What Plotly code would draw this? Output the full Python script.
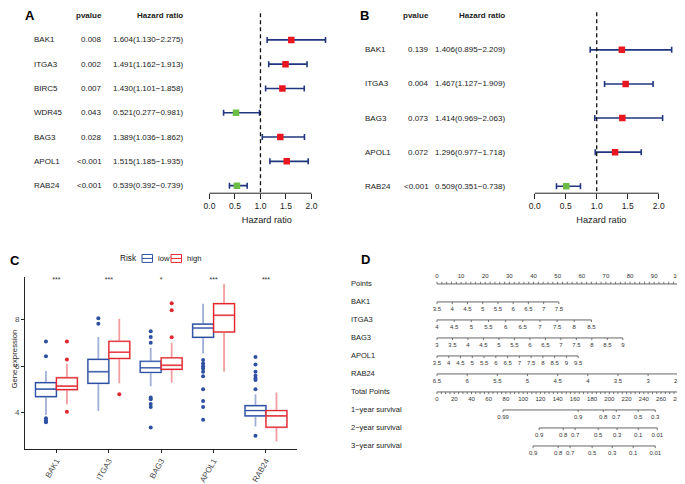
import plotly.graph_objects as go

# ---------------- data ----------------
# Panel A: univariate Cox
A_genes = ["BAK1", "ITGA3", "BIRC5", "WDR45", "BAG3", "APOL1", "RAB24"]
A_pval = ["0.008", "0.002", "0.007", "0.043", "0.028", "<0.001", "<0.001"]
A_hr = [1.604, 1.491, 1.430, 0.521, 1.389, 1.515, 0.539]
A_low = [1.130, 1.162, 1.101, 0.277, 1.036, 1.185, 0.392]
A_high = [2.275, 1.913, 1.858, 0.981, 1.862, 1.935, 0.739]

# Panel B: multivariate Cox
B_genes = ["BAK1", "ITGA3", "BAG3", "APOL1", "RAB24"]
B_pval = ["0.139", "0.004", "0.073", "0.072", "<0.001"]
B_hr = [1.406, 1.467, 1.414, 1.296, 0.509]
B_low = [0.895, 1.127, 0.969, 0.977, 0.351]
B_high = [2.209, 1.909, 2.063, 1.718, 0.738]

HR_ticks = [0, 0.5, 1.0, 1.5, 2.0]
HR_ticklabels = ["0.0", "0.5", "1.0", "1.5", "2.0"]

# Panel C: expression by risk group (box statistics)
C_genes = ["BAK1", "ITGA3", "BAG3", "APOL1", "RAB24"]
C_signif = ["***", "***", "*", "***", "***"]
low_q1 = [4.69, 5.26, 5.73, 7.24, 3.86]
low_med = [5.01, 5.76, 5.93, 7.64, 4.09]
low_q3 = [5.29, 6.29, 6.21, 7.81, 4.30]
low_lofence = [3.90, 4.07, 5.14, 6.54, 3.40]
low_hifence = [5.79, 7.26, 6.79, 8.69, 4.79]
low_outliers = [
    [7.06, 6.43, 3.76, 3.66, 3.59],
    [8.06, 7.83],
    [7.50, 7.26, 7.01, 4.65, 4.58, 4.37, 4.24, 3.36],
    [6.26, 6.11, 6.00, 5.90, 5.76, 5.57, 5.01, 4.50, 4.24, 3.69],
    [6.39, 6.07, 5.76, 5.59, 5.47, 5.40, 5.01, 3.00],
]
high_q1 = [4.99, 6.33, 5.86, 7.47, 3.37]
high_med = [5.14, 6.60, 6.04, 8.19, 3.86]
high_q3 = [5.50, 7.07, 6.36, 8.69, 4.09]
high_lofence = [4.36, 5.26, 5.29, 5.76, 2.76]
high_hifence = [6.10, 8.04, 7.01, 9.54, 4.87]
high_outliers = [
    [7.06, 6.29, 4.04],
    [4.79],
    [8.71, 8.41, 7.24],
    [],
    [],
]
C_yticks = [4, 6, 8]

# Panel D: nomogram
nomo_vars = ["BAK1", "ITGA3", "BAG3", "APOL1", "RAB24"]
BAK1_ticks = [3.5, 4, 4.5, 5, 5.5, 6, 6.5, 7, 7.5]
ITGA3_ticks = [4, 4.5, 5, 5.5, 6, 6.5, 7, 7.5, 8, 8.5]
BAG3_ticks = [3, 3.5, 4, 4.5, 5, 5.5, 6, 6.5, 7, 7.5, 8, 8.5, 9]
APOL1_ticks = [3.5, 4, 4.5, 5, 5.5, 6, 6.5, 7, 7.5, 8, 8.5, 9, 9.5]
RAB24_ticks = [6.5, 6, 5.5, 5, 4.5, 4, 3.5, 3, 2.5]
nomo_maxpoints = [50.5, 64.0, 77.0, 58.5, 100.0]
points_labels = list(range(0, 101, 10))
points_minor = list(range(0, 101, 2))
total_labels = list(range(0, 281, 20))
total_minor = list(range(0, 281, 5))
TOTAL_MAX = 280
surv1_prob = [0.99, 0.9, 0.8, 0.7, 0.5, 0.3]
surv1_tp = [76.7, 163.8, 192.9, 208.0, 233.5, 253.3]
surv2_prob = [0.9, 0.8, 0.7, 0.5, 0.3, 0.1, 0.01]
surv2_tp = [118.5, 146.4, 160.3, 187.0, 209.0, 233.5, 255.6]
surv3_prob = [0.9, 0.8, 0.7, 0.5, 0.3, 0.1, 0.01]
surv3_tp = [111.5, 140.6, 154.5, 180.0, 203.3, 227.7, 253.3]

# ---------------- layout helpers ----------------
# The page body has an 8px margin, so the figure is 8px smaller and every
# reference-pixel position is shifted by that margin.
PAGE_W, PAGE_H, BODY = 685, 484, 8
W, H = PAGE_W - BODY, PAGE_H - BODY
FONT = "Liberation Sans, Arial, sans-serif"
TXT = "#1a1a1a"
RED = "#E8161F"
GREEN = "#6CBD45"
NAVY = "#22367F"
BLUE_D, BLUE_L = "#2D50A2", "rgba(45,80,162,0.45)"
RED_D, RED_L = "#E3262E", "rgba(227,38,46,0.45)"


def px(x):
    return (x - BODY) / W


def py(y):
    return 1 - (y - BODY) / H


def dx(a, b):
    return [px(a), px(b)]


def dy(top, bottom):
    return [py(bottom), py(top)]


fig = go.Figure()
annotations = []
shapes = []


def ann(text, xpx, y, yref, xanchor, size=8, color=TXT):
    annotations.append(dict(text=text, x=px(xpx), xref="paper", y=y, yref=yref,
                            xanchor=xanchor, yanchor="middle", showarrow=False,
                            font=dict(size=size, color=color, family=FONT)))


# ---------------- forest plots ----------------
def add_forest(genes, pv, hr, lo, hi, xa, ya, yref, col_px, yrange):
    rows = list(range(1, len(genes) + 1))
    colors = [RED if h > 1 else GREEN for h in hr]
    fig.add_trace(go.Scatter(
        x=hr, y=rows, xaxis=xa, yaxis=ya, mode="markers",
        marker=dict(symbol="square", size=6.5, color=colors, line=dict(width=0)),
        error_x=dict(type="data", symmetric=False,
                     array=[u - h for h, u in zip(hr, hi)],
                     arrayminus=[h - l for h, l in zip(hr, lo)],
                     color=NAVY, thickness=1.6, width=3),
        hoverinfo="skip", showlegend=False))
    gx, pxx, hx = col_px
    for r, g, p, h, l, u in zip(rows, genes, pv, hr, lo, hi):
        ann(g, gx, r, yref, "left")
        ann(p, pxx, r, yref, "right")
        ann(f"{h:.3f}({l:.3f}\u2212{u:.3f})", hx, r, yref, "right")
    ann("<b>pvalue</b>", pxx, 0, yref, "right")
    ann("<b>Hazard ratio</b>", hx, 0, yref, "right")
    shapes.append(dict(type="line", xref=xa, yref=yref + " domain", x0=HR_ticks[0], x1=HR_ticks[-1],
                       y0=0, y1=0, line=dict(color="#222", width=1)))
    shapes.append(dict(type="line", xref=xa, yref=yref, x0=1, x1=1, y0=-0.1, y1=yrange[0],
                       line=dict(color="#111", width=1.3, dash="4px,3px")))


A_yrange = [7.311, -0.23]
B_yrange = [5.204, -0.168]
add_forest(A_genes, A_pval, A_hr, A_low, A_high, "x", "y", "y", (32, 104, 185), A_yrange)
add_forest(B_genes, B_pval, B_hr, B_low, B_high, "x2", "y2", "y2", (363, 431, 507), B_yrange)

forest_x = dict(showline=False, showgrid=False, zeroline=False, ticks="outside", ticklen=5,
                tickwidth=1, tickcolor="#222", tickvals=HR_ticks, ticktext=HR_ticklabels,
                tickfont=dict(size=8.5, color=TXT, family=FONT),
                title=dict(text="Hazard ratio", font=dict(size=9.2, color=TXT, family=FONT), standoff=6))

# ---------------- box plot ----------------
OFF = 0.2
for sign, q1, med, q3, lf, uf, outl, cd, cl in [
        (-1, low_q1, low_med, low_q3, low_lofence, low_hifence, low_outliers, BLUE_D, BLUE_L),
        (1, high_q1, high_med, high_q3, high_lofence, high_hifence, high_outliers, RED_D, RED_L)]:
    xs = [i + sign * OFF for i in range(len(C_genes))]
    fig.add_trace(go.Box(x=xs, q1=q1, median=med, q3=q3, lowerfence=lf, upperfence=uf,
                         width=0.4, whiskerwidth=0, xaxis="x3", yaxis="y3",
                         line=dict(color=cl, width=1.8), fillcolor="white",
                         boxpoints=False, hoverinfo="skip", showlegend=False))
    fig.add_trace(go.Box(x=xs, q1=q1, median=med, q3=q3, lowerfence=q1, upperfence=q3,
                         width=0.4, whiskerwidth=0, xaxis="x3", yaxis="y3",
                         line=dict(color=cd, width=1.1), fillcolor="rgba(0,0,0,0)",
                         boxpoints=False, hoverinfo="skip", showlegend=False))
    ox, oy = [], []
    for i, vals in enumerate(outl):
        ox += [i + sign * OFF] * len(vals)
        oy += vals
    fig.add_trace(go.Scatter(x=ox, y=oy, xaxis="x3", yaxis="y3", mode="markers",
                             marker=dict(size=4, color=cd), hoverinfo="skip", showlegend=False))

STAR_Y = 9.71
fig.add_trace(go.Scatter(x=list(range(len(C_genes))), y=[STAR_Y] * len(C_genes), mode="text",
                         text=C_signif, textposition="middle center", xaxis="x3", yaxis="y3",
                         textfont=dict(size=7, color="#333", family=FONT),
                         hoverinfo="skip", showlegend=False))

# y-axis title of panel C (kept inside the visible page)
annotations.append(dict(text="Gene expression", x=px(8.6), y=py(361), xref="paper", yref="paper",
                        xanchor="left", yanchor="middle", textangle=-90, showarrow=False,
                        borderpad=0, font=dict(size=7.8, color=TXT, family=FONT)))

# manual legend for panel C
annotations.append(dict(text="Risk", x=px(118), y=py(259.5), xref="paper", yref="paper", xanchor="left",
                        yanchor="middle", showarrow=False, font=dict(size=8.3, color=TXT, family=FONT)))
for x0, col, lab in [(142, BLUE_D, "low"), (171, RED_D, "high")]:
    shapes.append(dict(type="rect", xref="paper", yref="paper", x0=px(x0), x1=px(x0 + 10.5),
                       y0=py(263.5), y1=py(255.5), line=dict(color=col, width=1), fillcolor="white"))
    shapes.append(dict(type="line", xref="paper", yref="paper", x0=px(x0), x1=px(x0 + 10.5),
                       y0=py(259.5), y1=py(259.5), line=dict(color=col, width=1)))
    annotations.append(dict(text=lab, x=px(x0 + 13.5), y=py(259.5), xref="paper", yref="paper",
                            xanchor="left", yanchor="middle", showarrow=False,
                            font=dict(size=7.6, color=TXT, family=FONT)))

# ---------------- nomogram ----------------
ROW_LAB = 0.404
TICK = 0.12
seg_x, seg_y, tk_x, tk_y = [], [], [], []
lab_x, lab_y, lab_t = [], [], []


def add_scale(r, pos, lab_pos, labels, direction):
    seg_x.extend([min(pos + lab_pos), max(pos + lab_pos), None])
    seg_y.extend([r, r, None])
    for p in pos:
        tk_x.extend([p, p, None])
        tk_y.extend([r, r + direction * TICK, None])
    for p, t in zip(lab_pos, labels):
        lab_x.append(p)
        lab_y.append(r + direction * ROW_LAB)
        lab_t.append(t)


def fmt(v):
    return f"{v:g}"


row_names = ["Points"] + nomo_vars + ["Total Points", "1\u2212year survival",
                                      "2\u2212year survival", "3\u2212year survival"]
add_scale(0, points_minor, points_labels, [fmt(v) for v in points_labels], -1)
for k, (ticks, mx) in enumerate(zip([BAK1_ticks, ITGA3_ticks, BAG3_ticks, APOL1_ticks, RAB24_ticks],
                                    nomo_maxpoints)):
    v0, v1 = ticks[0], ticks[-1]
    pos = [(v - v0) / (v1 - v0) * mx for v in ticks]
    add_scale(k + 1, pos, pos, [fmt(v) for v in ticks], 1)
scale_tp = 100 / TOTAL_MAX
add_scale(6, [v * scale_tp for v in total_minor], [v * scale_tp for v in total_labels],
          [fmt(v) for v in total_labels], 1)
for k, (probs, tps) in enumerate([(surv1_prob, surv1_tp), (surv2_prob, surv2_tp), (surv3_prob, surv3_tp)]):
    pos = [v * scale_tp for v in tps]
    add_scale(7 + k, pos, pos, [fmt(v) for v in probs], 1)

fig.add_trace(go.Scatter(x=seg_x, y=seg_y, xaxis="x4", yaxis="y4", mode="lines",
                         line=dict(color="#555", width=0.9), hoverinfo="skip", showlegend=False))
fig.add_trace(go.Scatter(x=tk_x, y=tk_y, xaxis="x4", yaxis="y4", mode="lines",
                         line=dict(color="#555", width=0.8), hoverinfo="skip", showlegend=False))
fig.add_trace(go.Scatter(x=lab_x, y=lab_y, text=lab_t, xaxis="x4", yaxis="y4", mode="text",
                         textposition="middle center", textfont=dict(size=6, color="#333", family=FONT),
                         hoverinfo="skip", showlegend=False))
for r, name in enumerate(row_names):
    ann(name, 349, r, "y4", "left", size=7.5, color="#222")

# panel letters
for letter, xp, yp in [("A", 29.5, 15.8), ("B", 364.5, 15.8), ("C", 15, 261.5), ("D", 365, 261)]:
    annotations.append(dict(text=f"<b>{letter}</b>", x=px(xp), y=py(yp), xref="paper", yref="paper",
                            xanchor="center", yanchor="middle", showarrow=False, borderpad=0,
                            font=dict(size=13, color="black", family=FONT)))

hidden = dict(visible=False, showgrid=False, zeroline=False)

fig.update_layout(
    width=W, height=H, margin=dict(l=0, r=0, t=0, b=0),
    paper_bgcolor="white", plot_bgcolor="white",
    font=dict(family=FONT, color=TXT),
    showlegend=False,
    xaxis=dict(domain=dx(201.8, 331.9), range=[-0.15, 2.4], anchor="y", **forest_x),
    yaxis=dict(domain=dy(10, 194), range=A_yrange, anchor="x", **hidden),
    xaxis2=dict(domain=dx(525.4, 677.3), range=[-0.15, 2.3], anchor="y2", **forest_x),
    yaxis2=dict(domain=dy(10, 194), range=B_yrange, anchor="x2", **hidden),
    xaxis3=dict(domain=dx(25, 297.4), range=[-0.6, 4.6], anchor="y3", showline=True,
                linecolor="#222", linewidth=1, ticks="outside", ticklen=3, tickcolor="#222",
                tickvals=list(range(len(C_genes))), ticktext=C_genes, tickangle=-60,
                tickfont=dict(size=8, color="#4d4d4d", family=FONT), showgrid=False, zeroline=False),
    yaxis3=dict(domain=dy(278, 451), range=[2.428, 9.843], anchor="x3", showline=True,
                linecolor="#222", linewidth=1, ticks="outside", ticklen=3, tickcolor="#222",
                tickvals=C_yticks, tickfont=dict(size=8, color="#4d4d4d", family=FONT),
                showgrid=False, zeroline=False),
    xaxis4=dict(domain=dx(345, 685), range=[-38.13, 102.78], anchor="y4", **hidden),
    yaxis4=dict(domain=dy(262, 470), range=[10.227, -1.278], anchor="x4", **hidden),
    annotations=annotations, shapes=shapes,
)

fig.write_html("out.html")
